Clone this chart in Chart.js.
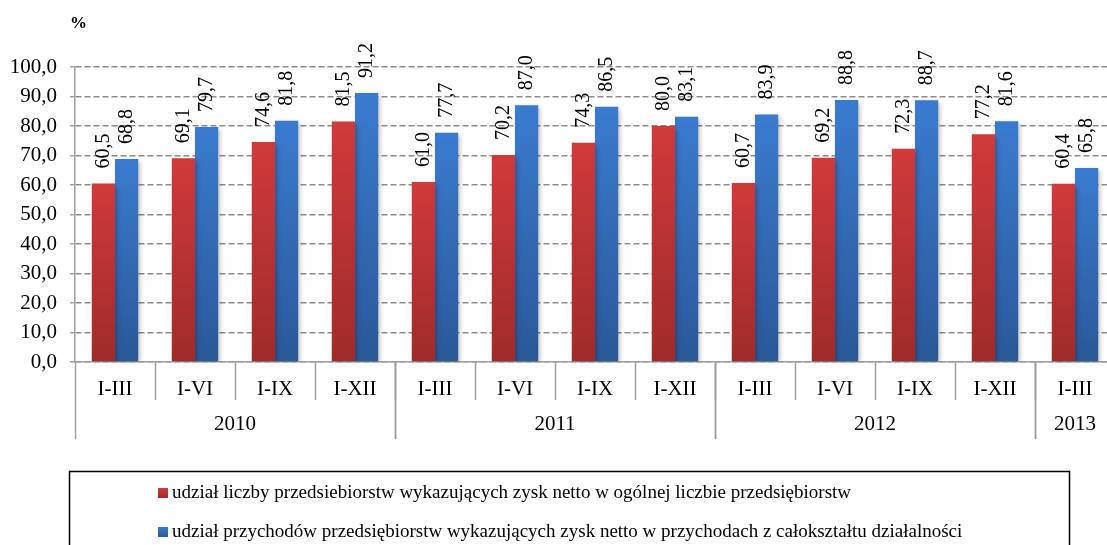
<!DOCTYPE html>
<html>
<head>
<meta charset="utf-8">
<script src="https://cdn.jsdelivr.net/npm/chart.js@4/dist/chart.umd.min.js"></script>
<style>
  html, body { margin: 0; padding: 0; background: #fff; overflow: hidden; }
  #wrap { width: 1120px; height: 545px; position: relative; }
</style>
</head>
<body>
<div id="wrap"><canvas id="chart"></canvas></div>
<script>
const quarters = ['I-III', 'I-VI', 'I-IX', 'I-XII', 'I-III', 'I-VI', 'I-IX', 'I-XII', 'I-III', 'I-VI', 'I-IX', 'I-XII', 'I-III'];
const years = ['2010', '2011', '2012', '2013'];
const yearSpans = [4, 4, 4, 1];
const firmShare = [60.5, 69.1, 74.6, 81.5, 61.0, 70.2, 74.3, 80.0, 60.7, 69.2, 72.3, 77.2, 60.4];
const revenueShare = [68.8, 79.7, 81.8, 91.2, 77.7, 87.0, 86.5, 83.1, 83.9, 88.8, 88.7, 81.6, 65.8];
const seriesNames = [
    'udział liczby przedsiebiorstw wykazujących zysk netto w ogólnej liczbie przedsiębiorstw',
    'udział przychodów przedsiębiorstw wykazujących zysk netto w przychodach z całokształtu działalności'
];

const FONT = '"Liberation Serif", "Times New Roman", serif';

function fmt(v){
    return v.toFixed(1).replace('.', ',');
}

function barGradient(top, bottom){
    return function(ctx){
        const chart = ctx.chart;
        const area = chart.chartArea;
        if(!area || ctx.type !== 'data') return top;
        const yScale = chart.scales.y;
        const y0 = yScale.getPixelForValue(ctx.raw);
        const y1 = yScale.getPixelForValue(0);
        const g = chart.ctx.createLinearGradient(0, y0, 0, y1);
        g.addColorStop(0, top);
        g.addColorStop(1, bottom);
        return g;
    };
}

const shadowPlugin = {
    id: 'barShadow',
    beforeDatasetsDraw(chart){
        const c = chart.ctx;
        c.save();
        c.shadowColor = 'rgba(0,0,0,0.3)';
        c.shadowBlur = 5;
        c.shadowOffsetX = 2;
        c.shadowOffsetY = 2;
    },
    afterDatasetsDraw(chart){
        chart.ctx.restore();
    }
};

const valueLabels = {
    id: 'valueLabels',
    afterDatasetsDraw(chart){
        const c = chart.ctx;
        c.save();
        c.font = '20px ' + FONT;
        c.fillStyle = '#000';
        c.textAlign = 'left';
        c.textBaseline = 'middle';
        chart.data.datasets.forEach((ds, i) => {
            chart.getDatasetMeta(i).data.forEach((bar, j) => {
                c.save();
                c.translate(bar.x, bar.y - 15);
                c.rotate(-Math.PI / 2);
                c.fillText(fmt(ds.data[j]), 0, 0);
                c.restore();
            });
        });
        c.restore();
    }
};

const xAxisLabels = {
    id: 'xAxisLabels',
    afterDraw(chart){
        const c = chart.ctx;
        const x = chart.scales.x;
        const base = chart.chartArea.bottom;
        const half = (x.getPixelForValue(1) - x.getPixelForValue(0)) / 2;
        c.save();
        c.strokeStyle = '#a0a0a0';
        c.lineWidth = 1.5;
        c.fillStyle = '#000';
        c.textAlign = 'center';
        c.textBaseline = 'middle';
        c.font = '21px ' + FONT;
        quarters.forEach((q, i) => {
            const cx = x.getPixelForValue(i);
            c.fillText(q, cx, base + 27);
            c.beginPath();
            c.moveTo(Math.round(cx + half) + 0.5, base);
            c.lineTo(Math.round(cx + half) + 0.5, base + 38);
            c.stroke();
        });
        let start = 0;
        years.forEach((yr, k) => {
            const left = x.getPixelForValue(start) - half;
            const right = x.getPixelForValue(start + yearSpans[k] - 1) + half;
            c.fillText(yr, (left + right) / 2, base + 62);
            [left, right].forEach(px => {
                c.beginPath();
                c.moveTo(Math.round(px) + 0.5, base);
                c.lineTo(Math.round(px) + 0.5, base + 77);
                c.stroke();
            });
            start += yearSpans[k];
        });
        // jednostka osi
        c.font = 'bold 17px ' + FONT;
        c.textAlign = 'left';
        c.fillText('%', 70, 24);
        c.restore();
    }
};

const boxLegend = {
    id: 'boxLegend',
    afterDraw(chart){
        const c = chart.ctx;
        c.save();
        c.strokeStyle = '#000';
        c.lineWidth = 1.5;
        c.strokeRect(69.5, 471.5, 1000, 90);
        const colors = [['#d03a3a', '#a02c2c'], ['#3a7ad0', '#2b5a9a']];
        c.font = '19px ' + FONT;
        c.textBaseline = 'middle';
        seriesNames.forEach((name, i) => {
            const y = 493 + i * 39;
            const g = c.createLinearGradient(0, y - 5, 0, y + 5);
            g.addColorStop(0, colors[i][0]);
            g.addColorStop(1, colors[i][1]);
            c.fillStyle = g;
            c.fillRect(158, y - 5, 10, 10);
            c.fillStyle = '#000';
            c.fillText(name, 172, y);
        });
        c.restore();
    }
};

const config = {
    type: 'bar',
    data: {
        labels: quarters,
        datasets: [
            {
                label: seriesNames[0],
                data: firmShare,
                backgroundColor: barGradient('#d03a3a', '#9e2b2b'),
                categoryPercentage: 0.58,
                barPercentage: 1.0
            },
            {
                label: seriesNames[1],
                data: revenueShare,
                backgroundColor: barGradient('#3a7bd0', '#2a5898'),
                categoryPercentage: 0.58,
                barPercentage: 1.0
            }
        ]
    },
    options: {
        responsive: true,
        maintainAspectRatio: false,
        animation: false,
        layout: {
            padding: { top: 67, right: 5, bottom: 183, left: 0 }
        },
        plugins: {
            legend: { display: false },
            tooltip: { enabled: false }
        },
        scales: {
            x: {
                grid: { display: false, drawTicks: false },
                ticks: { display: false },
                border: { display: true, color: '#a0a0a0', width: 1.5 }
            },
            y: {
                min: 0,
                max: 100,
                afterFit: scale => { scale.width = 75; },
                ticks: {
                    stepSize: 10,
                    color: '#000',
                    font: { family: FONT, size: 21 },
                    padding: 13,
                    callback: v => fmt(v)
                },
                grid: {
                    color: '#8c8c8c',
                    lineWidth: 1.5,
                    tickLength: 5,
                    tickColor: '#a0a0a0',
                    tickBorderDash: []
                },
                border: { display: true, color: '#a0a0a0', width: 1.5, dash: [6, 3] }
            }
        }
    },
    plugins: [shadowPlugin, valueLabels, xAxisLabels, boxLegend]
};

new Chart(document.getElementById('chart').getContext('2d'), config);
</script>
</body>
</html>
